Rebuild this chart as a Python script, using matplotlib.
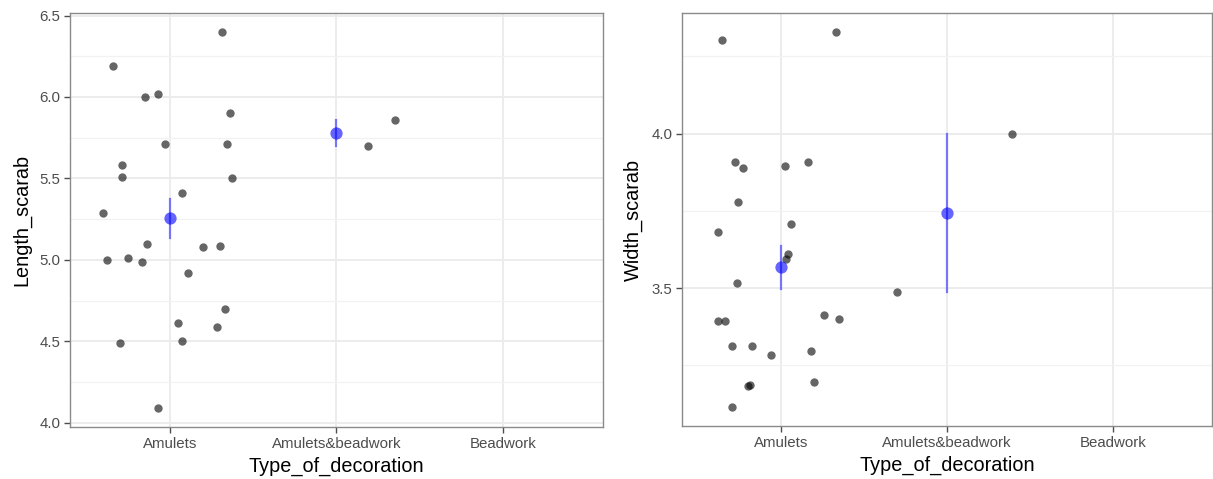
import numpy as np
import matplotlib.pyplot as plt
from matplotlib.ticker import MultipleLocator

plt.rcParams['font.family'] = ['Liberation Sans', 'DejaVu Sans']

categories = ['Amulets', 'Amulets&beadwork', 'Beadwork']

# left panel: Length_scarab, jittered points
len_group = [0] * 25 + [1] * 2
len_jitter = [0.31, -0.34, -0.15, -0.07, 0.36, -0.03, 0.34, -0.29, -0.29, 0.37,
              0.07, -0.40, -0.14, 0.20, 0.30, -0.38, -0.25, -0.17, 0.11, 0.33,
              0.05, 0.28, 0.07, -0.30, -0.07,
              0.19, 0.35]
len_values = [6.40, 6.19, 6.00, 6.02, 5.90, 5.71, 5.71, 5.58, 5.51, 5.50,
              5.41, 5.29, 5.10, 5.08, 5.085, 5.00, 5.01, 4.99, 4.92, 4.70,
              4.61, 4.59, 4.50, 4.49, 4.09,
              5.70, 5.86]

# right panel: Width_scarab
wid_group = [0] * 24 + [1] * 2
wid_jitter = [-0.36, 0.33, -0.28, -0.23, 0.02, 0.16, -0.26, -0.38, 0.06, 0.04,
              0.03, -0.27, -0.38, -0.34, 0.26, 0.35, -0.30, -0.18, -0.06, 0.18,
              -0.20, -0.19, 0.20, -0.30,
              -0.30, 0.39]
wid_values = [4.303, 4.329, 3.907, 3.887, 3.895, 3.907, 3.779, 3.683, 3.709, 3.611,
              3.595, 3.516, 3.395, 3.395, 3.412, 3.401, 3.312, 3.312, 3.285, 3.298,
              3.183, 3.188, 3.196, 3.115,
              3.487, 4.00]


def panel(ax, group, jitter, values, ylabel, major, minor):
    group = np.array(group)
    values = np.array(values)
    x = group + 1 + np.array(jitter)

    ax.set_xlim(0.4, 3.6)
    lo, hi = values.min(), values.max()
    pad = (hi - lo) * 0.05
    ax.set_ylim(lo - pad, hi + pad)

    ax.set_xticks([1, 2, 3])
    ax.set_xticklabels(categories)
    ax.yaxis.set_major_locator(MultipleLocator(major))
    ax.yaxis.set_minor_locator(MultipleLocator(minor))
    ax.yaxis.set_major_formatter(plt.FormatStrFormatter('%.1f'))

    ax.grid(which='major', color='#ebebeb', lw=1.3, zorder=0)
    ax.grid(which='minor', axis='y', color='#f2f2f2', lw=0.9, zorder=0)
    ax.set_axisbelow(True)
    ax.tick_params(which='minor', length=0)
    ax.tick_params(which='major', length=4, width=1, color='#4d4d4d',
                   labelcolor='#4d4d4d', labelsize=10.8, pad=3)
    for s in ax.spines.values():
        s.set_color('#8a8a8a')
        s.set_linewidth(1.0)

    ax.scatter(x, values, s=36, color='black', alpha=0.6, lw=0, zorder=3)

    # mean +- standard error per group
    for g in np.unique(group):
        v = values[group == g]
        m = v.mean()
        se = v.std(ddof=1) / np.sqrt(len(v))
        ax.plot([g + 1, g + 1], [m - se, m + se], color='blue', alpha=0.5,
                lw=1.6, zorder=4)
        ax.scatter([g + 1], [m], s=78, color='blue', alpha=0.6, lw=0, zorder=5)

    ax.set_xlabel('Type_of_decoration', fontsize=14.3, labelpad=4)
    ax.set_ylabel(ylabel, fontsize=14.3, labelpad=6)


fig = plt.figure(figsize=(12.13, 4.79), dpi=100)
ax1 = fig.add_axes([0.0577, 0.1086, 0.4394, 0.8643])
ax2 = fig.add_axes([0.5622, 0.1106, 0.4370, 0.8622])

panel(ax1, len_group, len_jitter, len_values, 'Length_scarab', 0.5, 0.25)
panel(ax2, wid_group, wid_jitter, wid_values, 'Width_scarab', 0.5, 0.25)

fig.savefig('out.png', dpi=100)
